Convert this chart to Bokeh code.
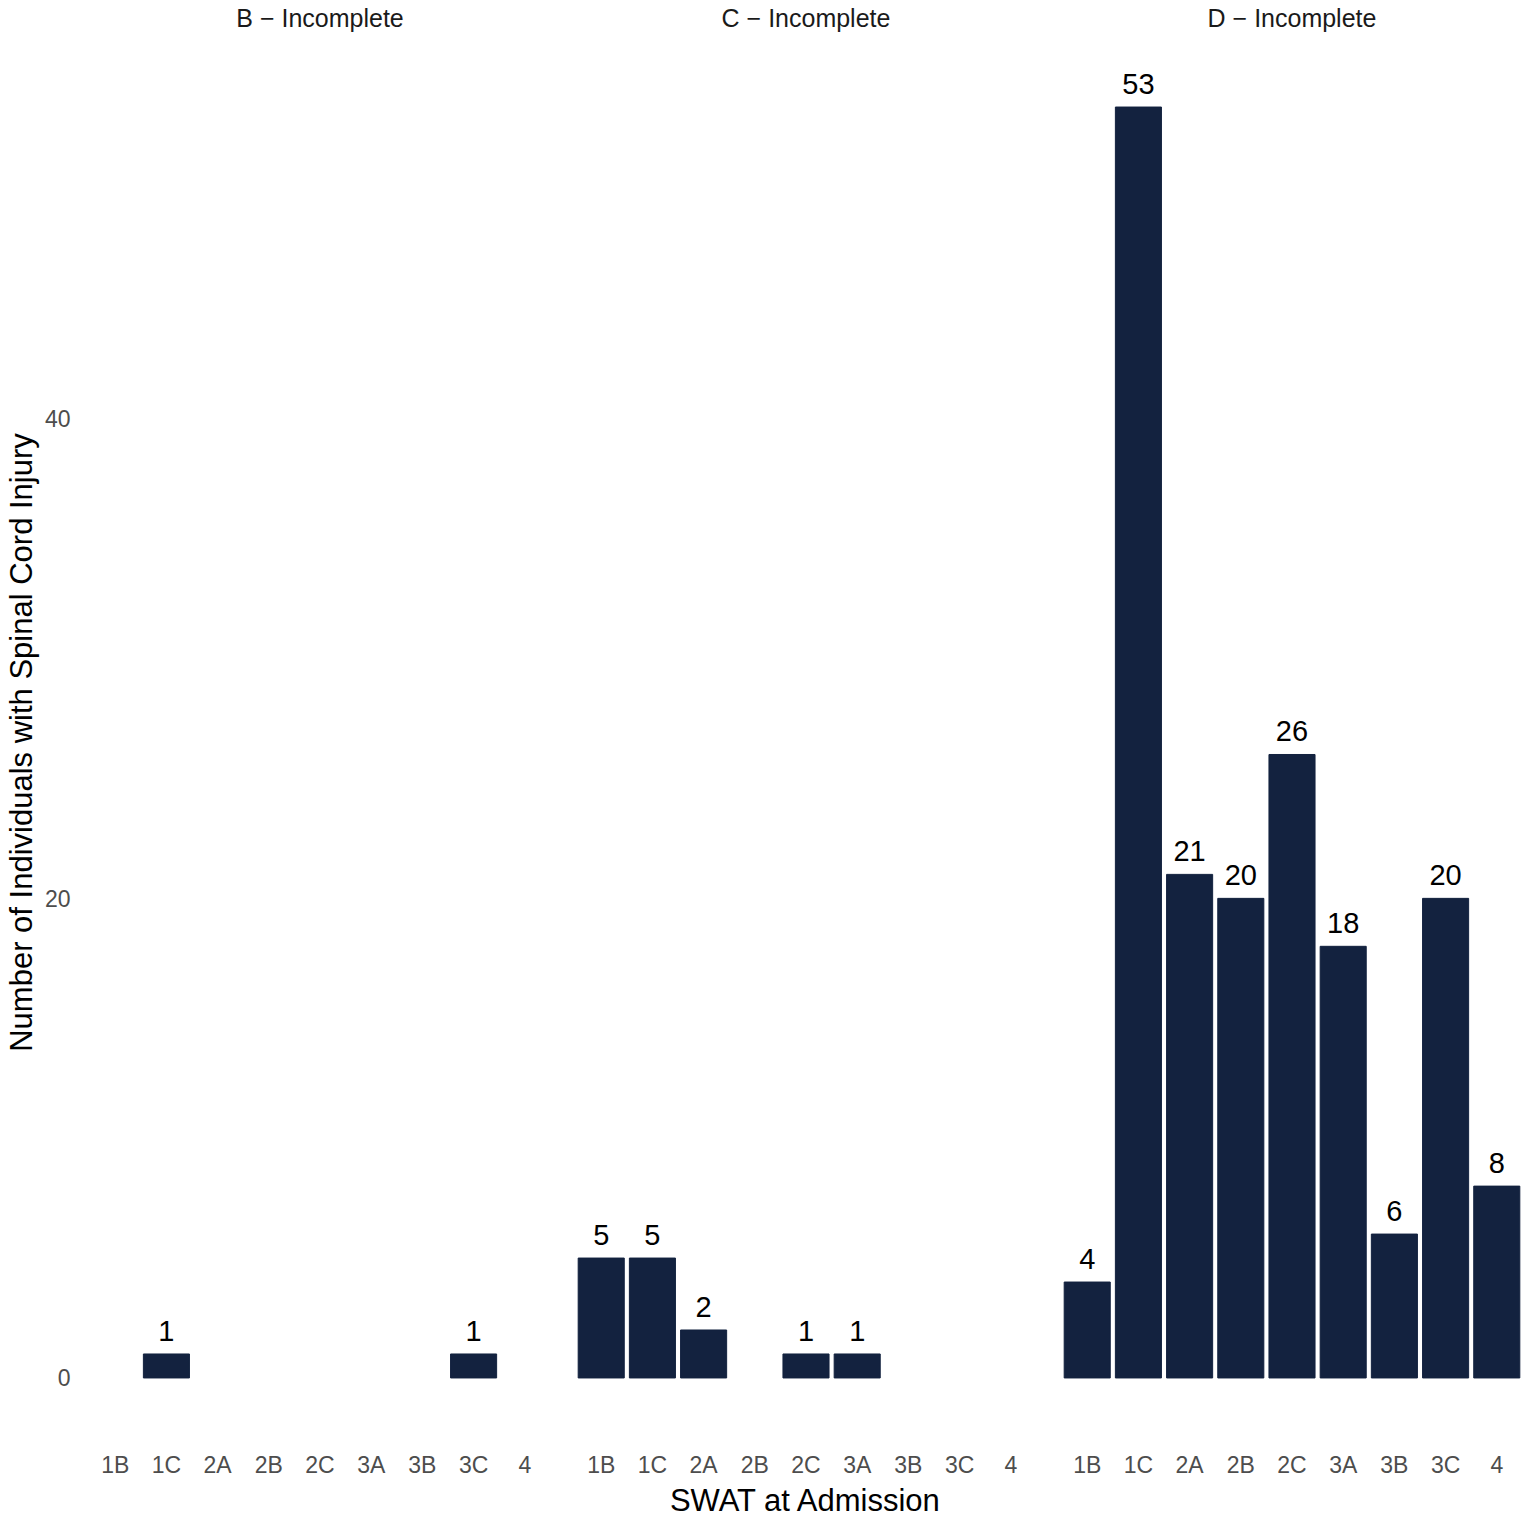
from bokeh.plotting import figure
from bokeh.layouts import row
from bokeh.models import FactorRange, Range1d, FixedTicker, ColumnDataSource
from bokeh.core.properties import value
from bokeh.embed import file_html
from bokeh.resources import INLINE

categories = ["1B", "1C", "2A", "2B", "2C", "3A", "3B", "3C", "4"]
facets = ["B − Incomplete", "C − Incomplete", "D − Incomplete"]
counts_B = [0, 1, 0, 0, 0, 0, 0, 1, 0]
counts_C = [5, 5, 2, 0, 1, 1, 0, 0, 0]
counts_D = [4, 53, 21, 20, 26, 18, 6, 20, 8]
y_ticks = [0, 20, 40]
y_title = "Number of Individuals with Spinal Cord Injury"
x_title = "SWAT at Admission"

BAR = "#13223f"
FONT = "Liberation Sans"
FRAME_W = 471
FRAME_H = 1398

all_counts = [counts_B, counts_C, counts_D]
ymax = max(max(c) for c in all_counts)
pad = ymax * 0.05

figs = []
for i, (name, counts) in enumerate(zip(facets, all_counts)):
    p = figure(
        x_range=FactorRange(factors=categories, range_padding=0.1, range_padding_units="absolute"),
        y_range=Range1d(-pad, ymax + pad),
        frame_width=FRAME_W, frame_height=FRAME_H,
        output_backend="svg", toolbar_location=None,
        y_axis_location="left" if i == 0 else None,
        title=name,
        min_border_left=0 if i == 0 else 15,
        min_border_right=0, min_border_top=0, min_border_bottom=0,
    )
    p.title.align = "center"
    p.title.text_font = FONT
    p.title.text_font_size = "25px"
    p.title.text_font_style = "normal"
    p.title.text_color = "#1a1a1a"
    p.title.standoff = 24

    xs = [c for c, v in zip(categories, counts) if v > 0]
    vs = [v for v in counts if v > 0]
    src = ColumnDataSource(dict(x=xs, top=vs, label=[str(v) for v in vs]))
    p.vbar(x="x", top="top", bottom=0, width=0.9, source=src,
           fill_color=BAR, line_color=BAR)
    p.text(x="x", y="top", text="label", source=src,
           text_align="center", text_baseline="alphabetic", y_offset=-23,
           text_font=value(FONT), text_font_size="29px", text_color="#000000")

    p.xgrid.visible = False
    p.ygrid.visible = False
    p.outline_line_color = None
    p.background_fill_color = "white"
    p.border_fill_color = "white"

    xa = p.xaxis[0]
    xa.axis_line_color = None
    xa.major_tick_line_color = None
    xa.minor_tick_line_color = None
    xa.major_label_text_font = FONT
    xa.major_label_text_font_size = "23px"
    xa.major_label_text_color = "#4d4d4d"
    xa.major_label_standoff = 4
    if i == 1:
        xa.axis_label = x_title
        xa.axis_label_text_font = FONT
        xa.axis_label_text_font_size = "31px"
        xa.axis_label_text_font_style = "normal"
        xa.axis_label_text_color = "#000000"
        xa.axis_label_standoff = 2

    if i == 0:
        ya = p.yaxis[0]
        ya.ticker = FixedTicker(ticks=y_ticks)
        ya.axis_line_color = None
        ya.major_tick_line_color = None
        ya.minor_tick_line_color = None
        ya.major_label_text_font = FONT
        ya.major_label_text_font_size = "23px"
        ya.major_label_text_color = "#4d4d4d"
        ya.major_label_standoff = 8
        ya.axis_label = y_title
        ya.axis_label_text_font = FONT
        ya.axis_label_text_font_size = "31px"
        ya.axis_label_text_font_style = "normal"
        ya.axis_label_text_color = "#000000"
        ya.axis_label_standoff = 3
    figs.append(p)

layout = row(*figs, styles={"margin-top": "-11px"})
open("out.html", "w").write(file_html(layout, INLINE))
